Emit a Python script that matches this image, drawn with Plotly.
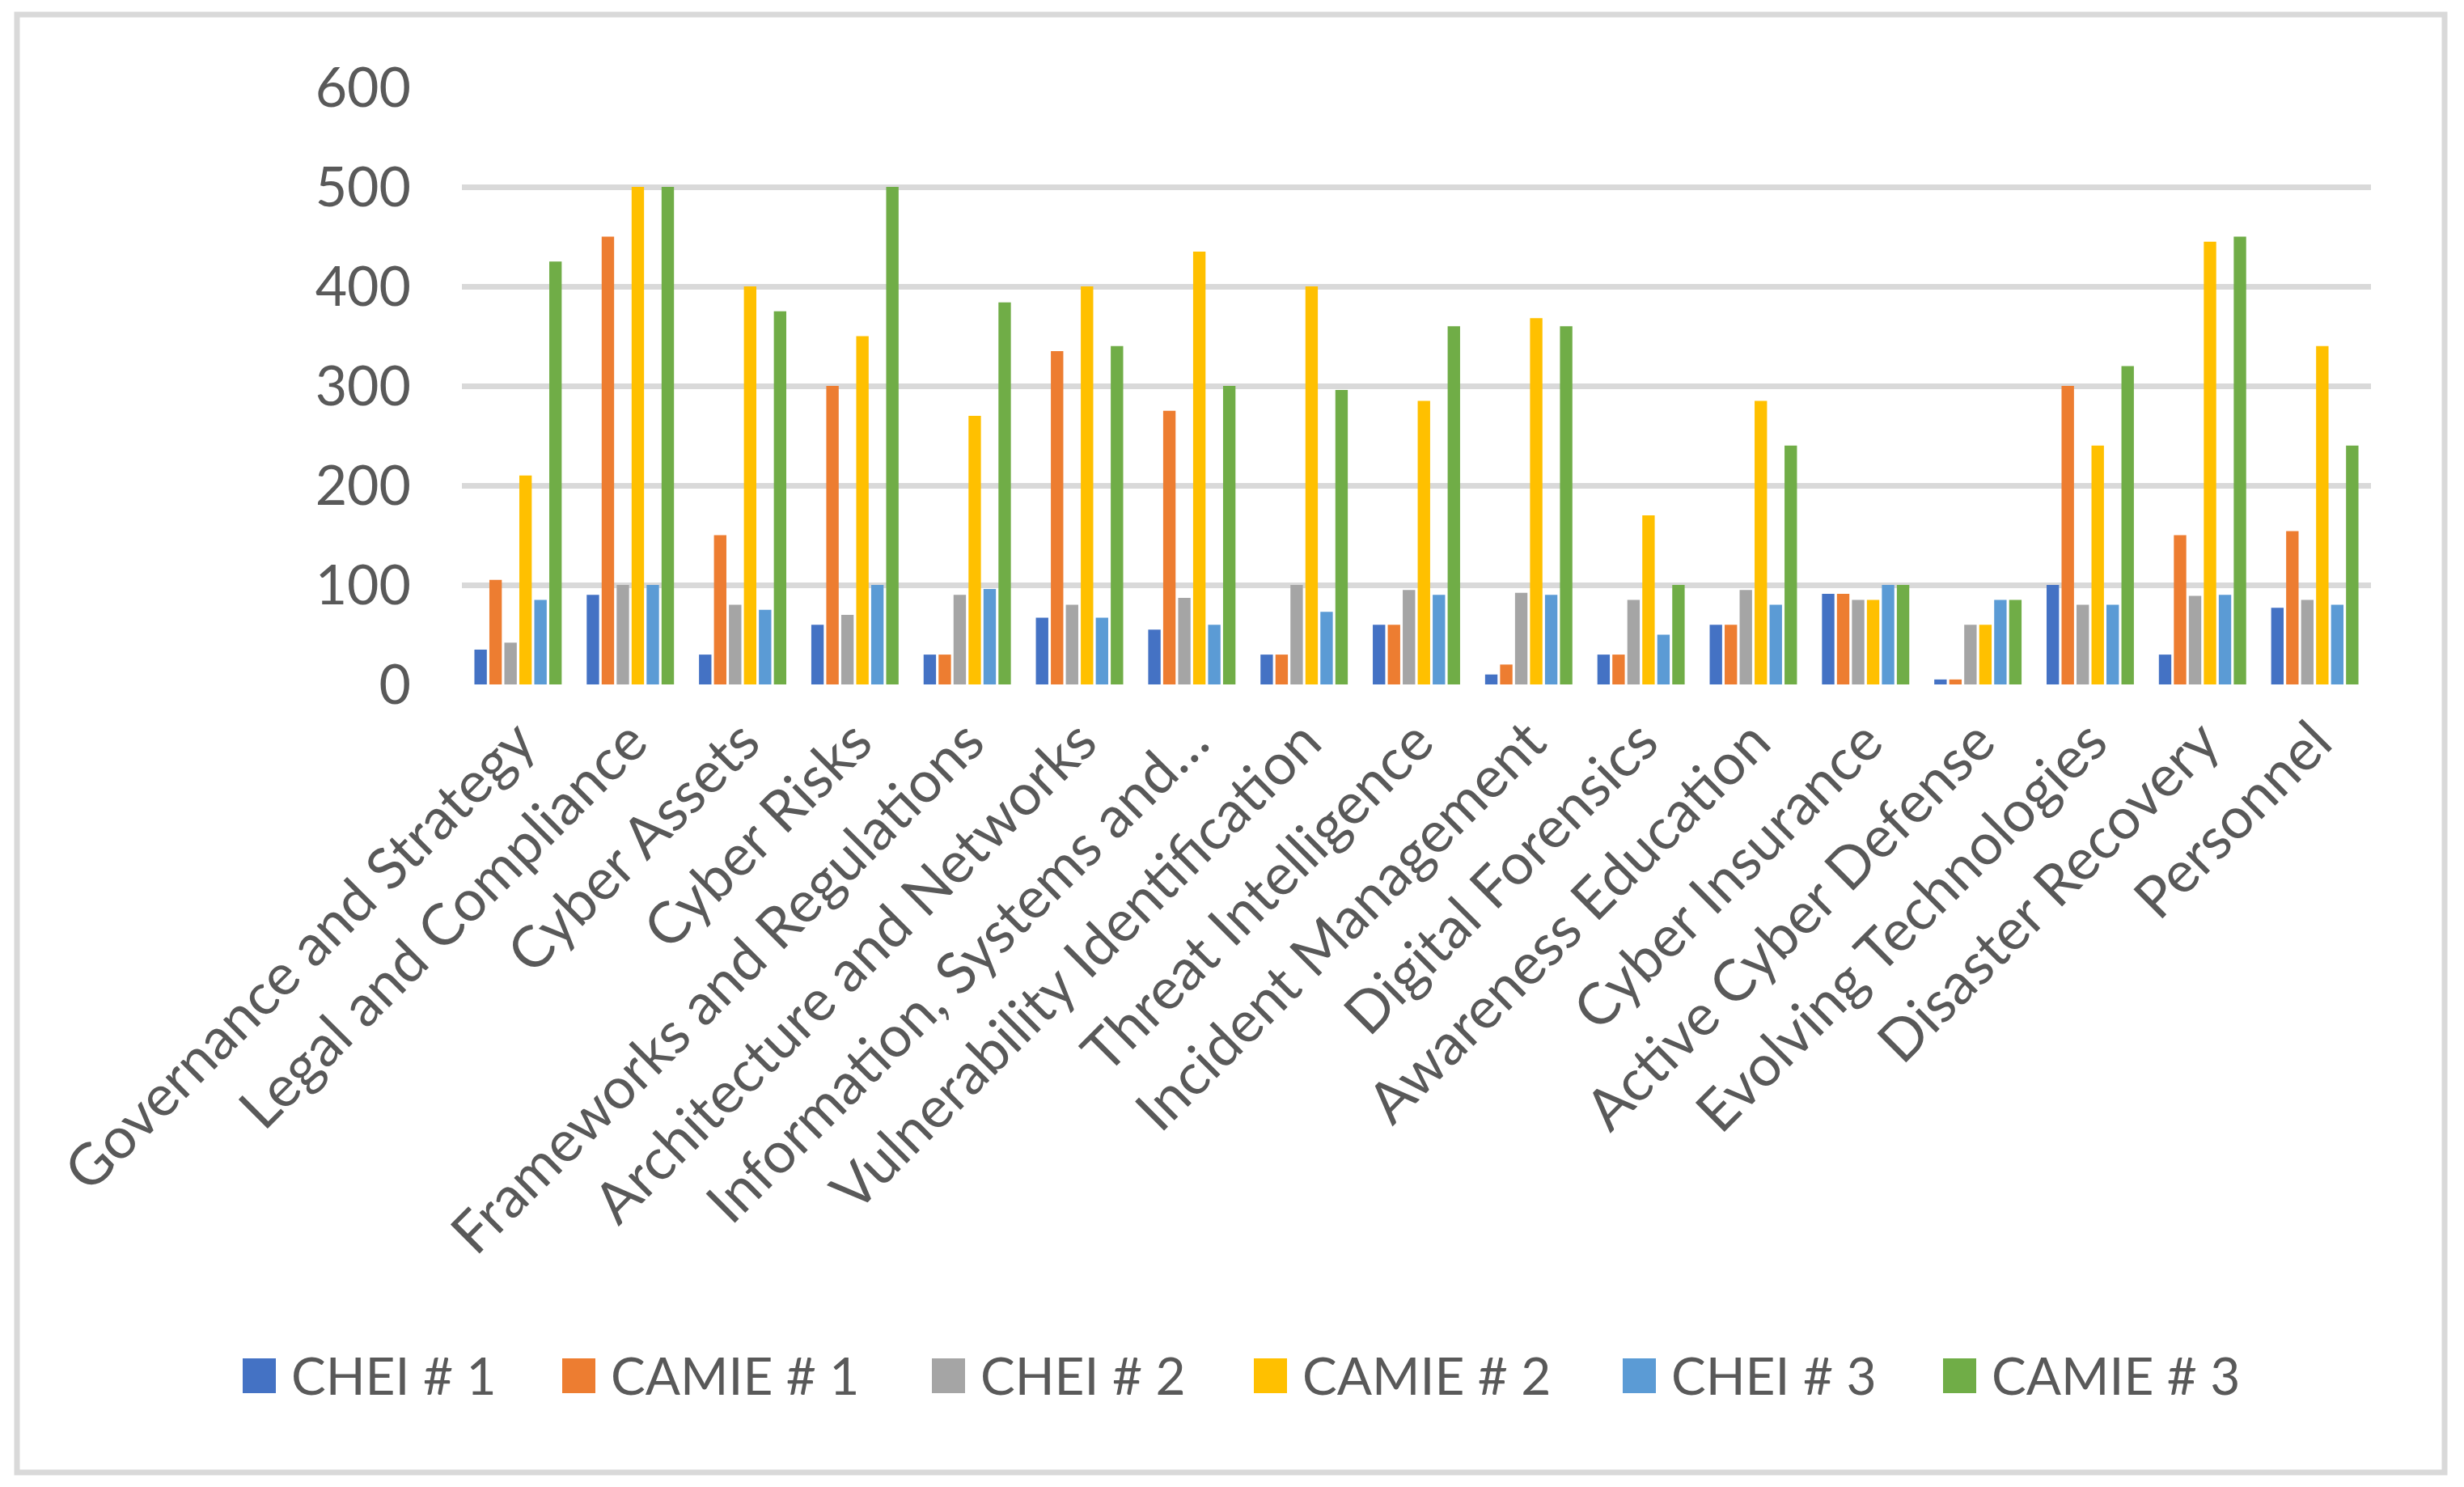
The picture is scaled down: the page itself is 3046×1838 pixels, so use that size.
import plotly.graph_objects as go

categories = [
    "Governance and Strategy", "Legal and Compliance", "Cyber Assets", "Cyber Risks",
    "Frameworks and Regulations", "Architecture and Networks", "Information, Systems and…",
    "Vulnerability Identification", "Threat Intelligence", "Incident Management",
    "Digital Forensics", "Awareness Education", "Cyber Insurance", "Active Cyber Defense",
    "Evolving Technologies", "Disaster Recovery", "Personnel",
]

chei_1  = [35, 90, 30, 60, 30, 67, 55, 30, 60, 10, 30, 60, 91, 5, 100, 30, 77]
camie_1 = [105, 450, 150, 300, 30, 335, 275, 30, 60, 20, 30, 60, 91, 5, 300, 150, 154]
chei_2  = [42, 100, 80, 70, 90, 80, 87, 100, 95, 92, 85, 95, 85, 60, 80, 89, 85]
camie_2 = [210, 500, 400, 350, 270, 400, 435, 400, 285, 368, 170, 285, 85, 60, 240, 445, 340]
chei_3  = [85, 100, 75, 100, 96, 67, 60, 73, 90, 90, 50, 80, 100, 85, 80, 90, 80]
camie_3 = [425, 500, 375, 500, 384, 340, 300, 296, 360, 360, 100, 240, 100, 85, 320, 450, 240]

series_names = ["CHEI # 1", "CAMIE # 1", "CHEI # 2", "CAMIE # 2", "CHEI # 3", "CAMIE # 3"]
series_values = [chei_1, camie_1, chei_2, camie_2, chei_3, camie_3]
colors = ["#4472C4", "#ED7D31", "#A5A5A5", "#FFC000", "#5B9BD5", "#70AD47"]

y_ticks = [0, 100, 200, 300, 400, 500, 600]

W, H = 3046, 1838
L, R, T, B = 571, 2931, 108, 846  # plot area in pixels
FONT = "Lato"
TXT = "#595959"
GRID = "#D9D9D9"

fig = go.Figure()
for name, vals, col in zip(series_names, series_values, colors):
    fig.add_trace(go.Bar(x=categories, y=vals, name=name, marker_color=col,
                         marker_line_width=0, showlegend=False))

def px_x(p):
    return (p - L) / (R - L)

def px_y(p):
    return (B - p) / (B - T)

shapes = []
annotations = []
# chart border
shapes.append(dict(type="rect", xref="paper", yref="paper",
                   x0=px_x(21), x1=px_x(3022), y0=px_y(18), y1=px_y(1820),
                   line=dict(color=GRID, width=7), fillcolor="rgba(0,0,0,0)", layer="below"))
# custom legend
legend_left = [300, 695, 1152, 1550, 2006, 2402]
sw = 41
cy = 1700
for name, col, lx in zip(series_names, colors, legend_left):
    shapes.append(dict(type="rect", xref="paper", yref="paper",
                       x0=px_x(lx), x1=px_x(lx + sw), y0=px_y(cy - 21), y1=px_y(cy + 22),
                       line=dict(width=0), fillcolor=col))
    annotations.append(dict(text=name, xref="paper", yref="paper", x=px_x(lx + 58), y=px_y(cy),
                            xanchor="left", yanchor="middle", showarrow=False,
                            font=dict(family=FONT, size=64, color=TXT)))

fig.update_layout(
    width=W, height=H,
    margin=dict(l=L, r=W - R, t=T, b=H - B, pad=0),
    paper_bgcolor="white", plot_bgcolor="white",
    barmode="group", bargap=0.2, bargroupgap=0.17,
    font=dict(family=FONT, size=68, color=TXT),
    shapes=shapes, annotations=annotations,
    showlegend=False,
)
fig.update_xaxes(tickangle=-45, tickfont=dict(family=FONT, size=71, color=TXT),
                 showgrid=False, showline=False, ticks="", automargin=False,
                 ticklabelstandoff=14)
fig.update_yaxes(range=[0, 600], tickvals=y_ticks, showgrid=True, gridcolor=GRID, gridwidth=7,
                 zeroline=False, showline=False, ticks="", ticklabelstandoff=62,
                 tickfont=dict(family=FONT, size=68, color=TXT), automargin=False)

fig.write_html("out.html", config={"displayModeBar": False},
               post_script="document.body.style.margin='0';")
